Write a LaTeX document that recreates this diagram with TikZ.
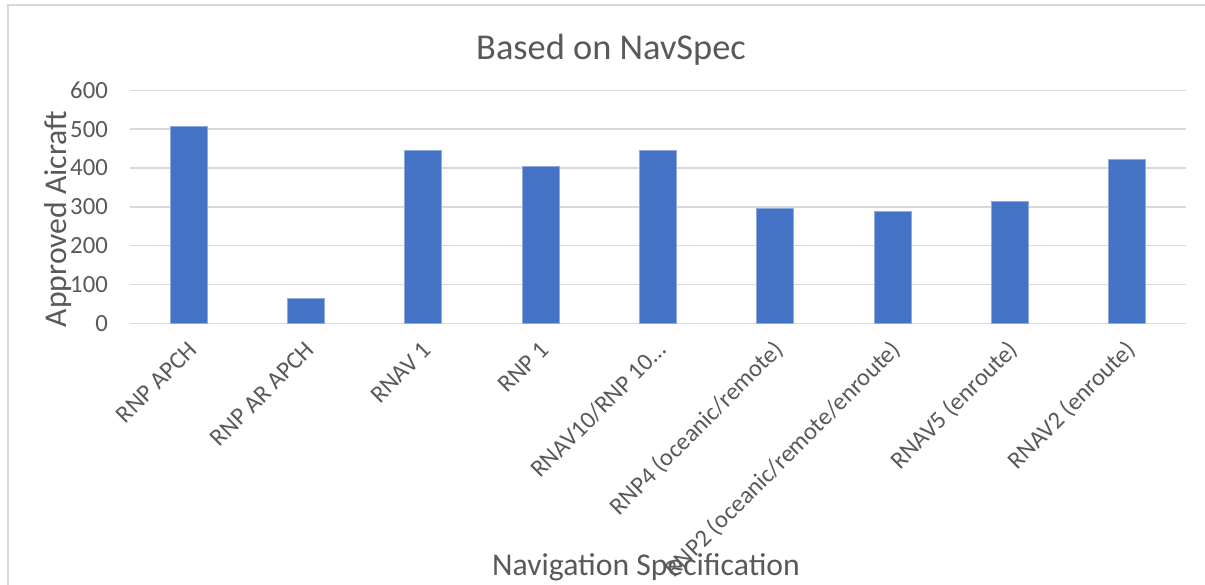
\documentclass[tikz,border=0pt]{standalone}
\usepackage{fontspec}
\setmainfont{Carlito}
\definecolor{txt}{HTML}{595959}
\definecolor{grid}{HTML}{D9D9D9}
\definecolor{bar}{HTML}{4472C4}
\definecolor{baredge}{HTML}{8FAADC}
\tikzset{
  gridline/.style={draw=grid, line width=1.5pt},
  barbox/.style={fill=bar, draw=baredge, line width=0.8pt},
  ticklab/.style={text=txt, anchor=east, inner sep=0pt, font=\fontsize{24.7}{28}\selectfont},
  catlab/.style={text=txt, anchor=east, rotate=45, inner sep=0pt, font=\fontsize{24.5}{28}\selectfont},
  axtitle/.style={text=txt, inner sep=0pt, font=\fontsize{31.7}{36}\selectfont},
  charttitle/.style={text=txt, inner sep=0pt, font=\fontsize{36.4}{40}\selectfont}
}
\begin{document}
\begin{tikzpicture}[x=1pt,y=-1pt]
\useasboundingbox (0,0) rectangle (1205,585);
\fill[white] (0,0) rectangle (1205,585);
\draw[draw=grid, line width=1.5pt] (8,5) rectangle (1230,610);
% gridlines and tick labels
\foreach \v in {0,100,...,600} {
  \pgfmathsetmacro{\yy}{323.3-\v*0.3883}
  \coordinate (gl\v) at (130,\yy);
  \coordinate (gr\v) at (1186,\yy);
  \draw[gridline] (gl\v) -- (gr\v);
  \node[ticklab] (t\v) at (108,\yy) {\v};
}
% bars
\foreach \i/\val/\lab in {0/508/{RNP APCH},1/65/{RNP AR APCH},2/445/{RNAV 1},3/405/{RNP 1},4/445/{RNAV10/RNP 10…},5/296/{RNP4 (oceanic/remote)},6/289/{RNP2 (oceanic/remote/enroute)},7/313/{RNAV5 (enroute)},8/422/{RNAV2 (enroute)}} {
  \pgfmathsetmacro{\cx}{130+117.33*(\i+0.5)}
  \pgfmathsetmacro{\top}{323.3-\val*0.3883}
  \draw[barbox] (\cx-18.5,323.3) rectangle (\cx+18.5,\top);
  \node[catlab] (c\i) at (\cx+4,346) {\lab};
}
\node[charttitle] (title) at (611,50) {Based on NavSpec};
\node[axtitle, rotate=90] (ytitle) at (58,219) {Approved Aicraft};
\node[axtitle] (xtitle) at (646,567) {Navigation Specification};
\end{tikzpicture}
\end{document}
